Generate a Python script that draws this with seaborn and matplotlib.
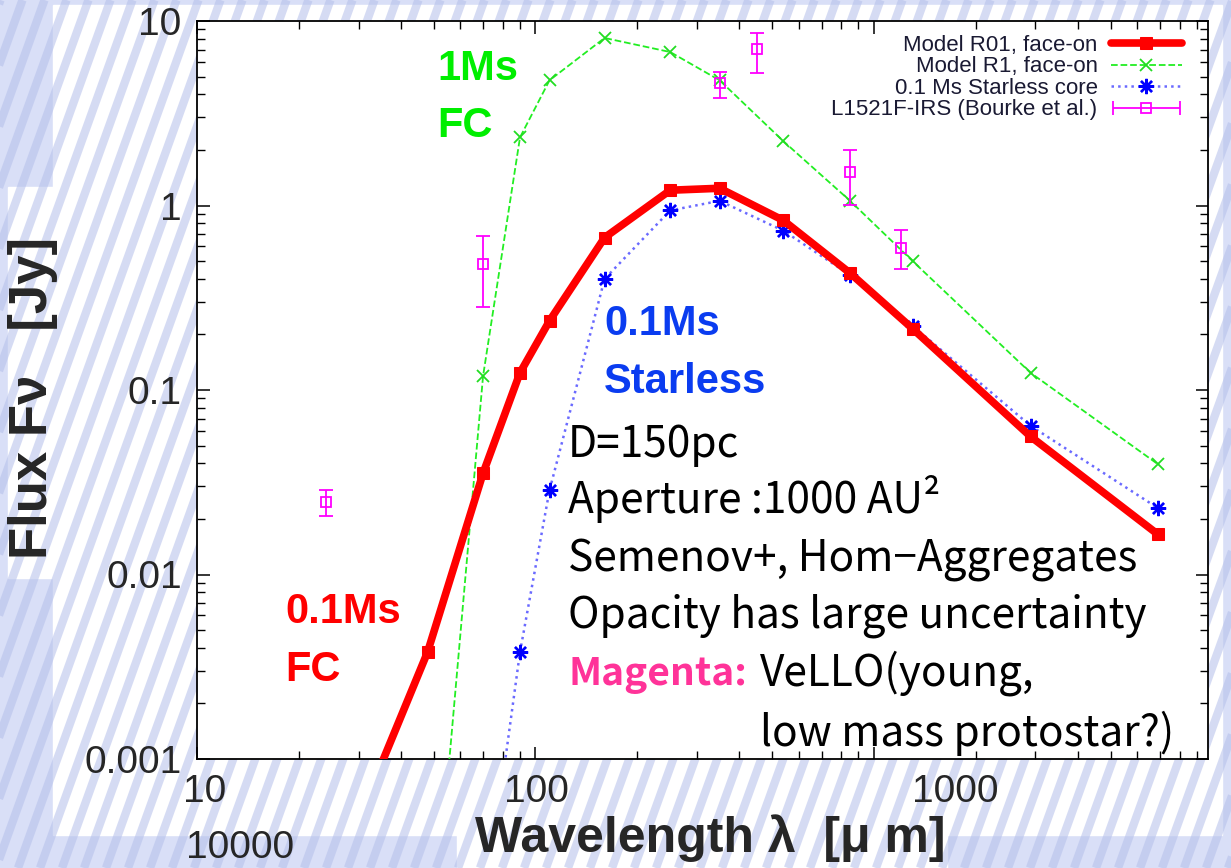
import numpy as np
import matplotlib
matplotlib.use('Agg')
import matplotlib.pyplot as plt
from matplotlib.collections import LineCollection
from matplotlib.patches import Rectangle
from matplotlib.ticker import LogLocator, NullFormatter, FixedLocator
from matplotlib.legend_handler import HandlerErrorbar
import seaborn as sns

# model SEDs : wavelength [um], flux [Jy]
wl_r01 = [30, 48, 70, 90, 110, 160, 250, 350, 540, 850, 1300, 2900, 6900]
flux_r01 = [0.00047, 0.0038, 0.0354, 0.124, 0.237, 0.67, 1.21, 1.24, 0.83, 0.43, 0.215, 0.056, 0.0165]

wl_r1 = [48, 70, 90, 110, 160, 250, 350, 540, 850, 1300, 2900, 6900]
flux_r1 = [0.000045, 0.119, 2.34, 4.77, 8.09, 6.79, 4.77, 2.23, 1.06, 0.50, 0.124, 0.0396]

wl_sl = [70, 90, 110, 160, 250, 350, 540, 850, 1300, 2900, 6900]
flux_sl = [0.00013, 0.0038, 0.0286, 0.40, 0.94, 1.06, 0.73, 0.42, 0.223, 0.064, 0.0229]

# L1521F-IRS photometry (Bourke et al.)
wl_obs = [24, 70, 350, 450, 850, 1200]
flux_obs = [0.0246, 0.484, 4.6, 7.04, 1.51, 0.59]
flux_lo = [0.0207, 0.282, 3.82, 5.2, 1.01, 0.45]
flux_hi = [0.0286, 0.68, 5.28, 8.6, 1.99, 0.74]

yticks = [0.001, 0.01, 0.1, 1, 10]
ytick_labels = ['0.001', '0.01', '0.1', '1', '10']

sns.set_theme(style='ticks')
plt.rcParams['font.family'] = ['Liberation Sans', 'Noto Sans CJK JP', 'DejaVu Sans']

W, H = 1231, 868
fig = plt.figure(figsize=(W / 100, H / 100), dpi=100)

# slide background: light blue stripes + white panels
bg = fig.add_axes([0, 0, 1, 1], zorder=-5)
bg.set_xlim(0, W)
bg.set_ylim(H, 0)
bg.axis('off')
bg.add_patch(Rectangle((0, 0), W, H, color='#d9dff7'))
segs = [[(c, H), (c + 0.36 * H, 0)] for c in np.arange(-400, W + 50, 22)]
bg.add_collection(LineCollection(segs, colors='#b4bfea', linewidths=6, alpha=0.55))
for x0, y0, w, h in [(53, 5, 1169, 830), (8, 187, 50, 391), (457, 835, 490, 33)]:
    bg.add_patch(Rectangle((x0, y0), w, h, color='white'))

ax = fig.add_axes([197 / W, 1 - 759 / H, 1011 / W, 738 / H])
ax.set_facecolor('white')

sns.lineplot(x=wl_r01, y=flux_r01, ax=ax, color='#ff0000', lw=5.5, marker='s', ms=8.5,
             mec='#ff0000', label='Model R01, face-on', errorbar=None, zorder=4)
sns.lineplot(x=wl_r1, y=flux_r1, ax=ax, color='#22ee22', lw=1.3, linestyle='--', marker='x',
             ms=8, mew=1.3, mec='#22dd22', label='Model R1, face-on', errorbar=None, zorder=3)
sns.lineplot(x=wl_sl, y=flux_sl, ax=ax, color='#6a6aff', lw=1.8, linestyle=':', marker=(8, 2, 0),
             ms=11, mew=1.7, mec='#0000ff', label='0.1 Ms Starless core', errorbar=None, zorder=3)

yerr = [np.array(flux_obs) - np.array(flux_lo), np.array(flux_hi) - np.array(flux_obs)]
err_style = dict(fmt='s', color='#ff00ff', mfc='none', mec='#ff00ff', ms=7, mew=1.3,
                 elinewidth=1.3, capsize=5, capthick=1.3)
ax.errorbar(wl_obs, flux_obs, yerr=yerr, label='_nolegend_', zorder=5, **err_style)
# legend key drawn as a horizontal error bar, like the gnuplot key
proxy = ax.errorbar([np.nan], [np.nan], xerr=[[np.nan], [np.nan]],
                    label='L1521F-IRS (Bourke et al.)', **err_style)

ax.set_xscale('log')
ax.set_yscale('log')
ax.set_xlim(10, 9700)
ax.set_ylim(0.001, 10)
ax.xaxis.set_major_locator(FixedLocator([10, 100, 1000]))
ax.xaxis.set_minor_locator(LogLocator(base=10, subs=range(2, 10)))
ax.xaxis.set_minor_formatter(NullFormatter())
ax.set_xticklabels([])
ax.yaxis.set_major_locator(FixedLocator(yticks))
ax.set_yticklabels(ytick_labels)
ax.yaxis.set_minor_locator(LogLocator(base=10, subs=range(2, 10)))
ax.yaxis.set_minor_formatter(NullFormatter())
ax.tick_params(which='both', direction='in', top=True, right=True, color='black')
ax.tick_params(which='major', length=9, width=1.1, labelsize=28, pad=11)
ax.tick_params(which='minor', length=5.5, width=1.0)
for s in ax.spines.values():
    s.set_color('black')
    s.set_linewidth(1.3)

ax.set_xlabel('Wavelength λ  [μ m]', fontsize=36, fontweight='bold', va='center')
ax.xaxis.set_label_coords((710 - 197) / 1011, (759 - 838) / 738)
ax.set_ylabel('Flux Fν   [Jy]', fontsize=38, fontweight='bold', va='center')
ax.yaxis.set_label_coords((33 - 197) / 1011, (759 - 398) / 738)

# x tick labels as drawn on the slide
for txt, px, py in [('10', 205, 792), ('100', 536, 792), ('1000', 955, 792), ('10000', 240, 848)]:
    fig.text(px / W, 1 - py / H, txt, fontsize=28, ha='center', va='center')

handles, labels = ax.get_legend_handles_labels()
leg = ax.legend(handles, labels, loc='upper right',
                bbox_to_anchor=((1182 - 197) / 1011, (759 - 35) / 738),
                frameon=False, markerfirst=False, fontsize=16, labelspacing=0.02,
                handlelength=3.2, handletextpad=0.6, borderpad=0, borderaxespad=0, numpoints=1,
                handler_map={proxy: HandlerErrorbar(xerr_size=1.5)})
for t in leg.get_texts():
    t.set_color('#1a1a33')

# annotations
def put(txt, px, py, color, size=30, weight='bold', family=None):
    fig.text(px / W, 1 - py / H, txt, color=color, fontsize=size, fontweight=weight,
             ha='left', va='baseline', family=family)

put('1Ms', 437, 80, '#00ee00')
put('FC', 437, 137, '#00ee00')
put('0.1Ms', 604, 335, '#0a3cf0')
put('Starless', 604, 393, '#0a3cf0')
put('0.1Ms', 285, 623, '#ff0000')
put('FC', 285, 681, '#ff0000')

jp = ['Noto Sans CJK JP', 'DejaVu Sans']
put('D=150pc', 568, 457, 'black', 30.5, 'normal', jp)
put('Aperture :1000 AU²', 568, 513, 'black', 30.5, 'normal', jp)
put('Semenov+, Hom−Aggregates', 568, 572, 'black', 30.5, 'normal', jp)
put('Opacity has large uncertainty', 568, 628, 'black', 30.5, 'normal', jp)
put('Magenta:', 568, 685, '#ff3399', 28, 'bold', jp)
put('VeLLO(young,', 760, 685, 'black', 30.5, 'normal', jp)
put('low mass protostar?)', 760, 746, 'black', 30.5, 'normal', jp)

fig.savefig('out.png', dpi=100)
